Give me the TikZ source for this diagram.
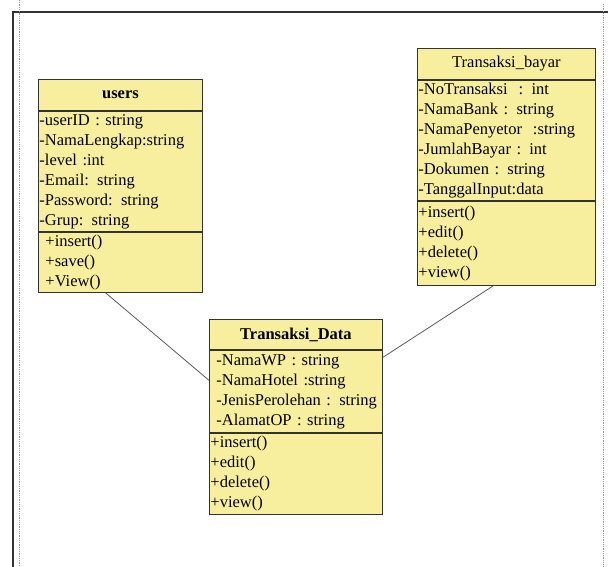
\documentclass[tikz,border=0pt]{standalone}
\usepackage{fontspec}
\setmainfont{Liberation Serif}
\usetikzlibrary{positioning, calc}
\definecolor{ClassFill}{HTML}{F7EF9E}
\definecolor{ClassLine}{HTML}{333333}
\definecolor{LinkLine}{HTML}{5A5A5A}
\definecolor{FrameGray}{HTML}{9A9A9A}
\newcommand{\attrind}{\hspace*{6pt}}
\tikzset{
    classpart/.style={rectangle, draw=ClassLine, fill=ClassFill, line width=0.9pt, anchor=north west, align=left, inner ysep=0pt, font=\fontsize{16.5}{20}\selectfont},
    classhead/.style={classpart, align=center},
    link/.style={draw=LinkLine, line width=0.8pt},
    frameline/.style={draw=ClassLine, line width=1.1pt},
    dotline/.style={draw=FrameGray, line width=1pt, dash pattern=on 1pt off 0.8pt},
}

\begin{document}
\begin{tikzpicture}[x=1pt, y=-1pt]
        \useasboundingbox (0,0) rectangle (608,567);
        % page frame
        \draw[frameline] (13,567) -- (13,12) -- (608,12);
        \draw[dotline] (19,0) -- (19,567);
        \draw[dotline] (603,4) -- (603,567);

        % users
        \node[classhead, text width=162pt, inner xsep=1pt, minimum height=31pt] (usersName) at (38,79) {\textbf{users}};
        \node[classpart, text width=162pt, inner xsep=1pt, minimum height=120pt] (usersAttr) at (usersName.south west) {-userID : string\\-NamaLengkap:string\\-level :int\\-Email: string\\-Password: string\\-Grup: string};
        \node[classpart, text width=162pt, inner xsep=1pt, minimum height=60pt] (usersOp) at (usersAttr.south west) {\attrind+insert()\\\attrind+save()\\\attrind+View()};

        % Transaksi_bayar
        \node[classhead, text width=176pt, inner xsep=1pt, minimum height=31pt] (bayarName) at (417,48) {Transaksi\_bayar};
        \node[classpart, text width=176pt, inner xsep=1pt, minimum height=120pt] (bayarAttr) at (bayarName.south west) {-NoTransaksi\ \ : int\\-NamaBank\ : string\\-NamaPenyetor\ \ :string\\-JumlahBayar : int\\-Dokumen : string\\-TanggalInput:data};
        \node[classpart, text width=176pt, inner xsep=1pt, minimum height=84pt] (bayarOp) at (bayarAttr.south west) {+insert()\\+edit()\\+delete()\\+view()};

        % Transaksi_Data
        \node[classhead, text width=171pt, inner xsep=1pt, minimum height=30pt] (dataName) at (209,319) {\textbf{Transaksi\_Data}};
        \node[classpart, text width=171pt, inner xsep=1pt, minimum height=82pt] (dataAttr) at (dataName.south west) {\attrind-NamaWP\ : string\\\attrind-NamaHotel :string\\\attrind-JenisPerolehan : string\\\attrind-AlamatOP\ : string};
        \node[classpart, text width=171pt, inner xsep=1pt, minimum height=81pt] (dataOp) at (dataAttr.south west) {+insert()\\+edit()\\+delete()\\+view()};

        \draw[link] ([xshift=-15pt]usersOp.south) -- ([yshift=11pt]dataAttr.west);
        \draw[link] ([xshift=-13pt]bayarOp.south) -- ([yshift=34pt]dataAttr.east);
    \end{tikzpicture}
\end{document}
